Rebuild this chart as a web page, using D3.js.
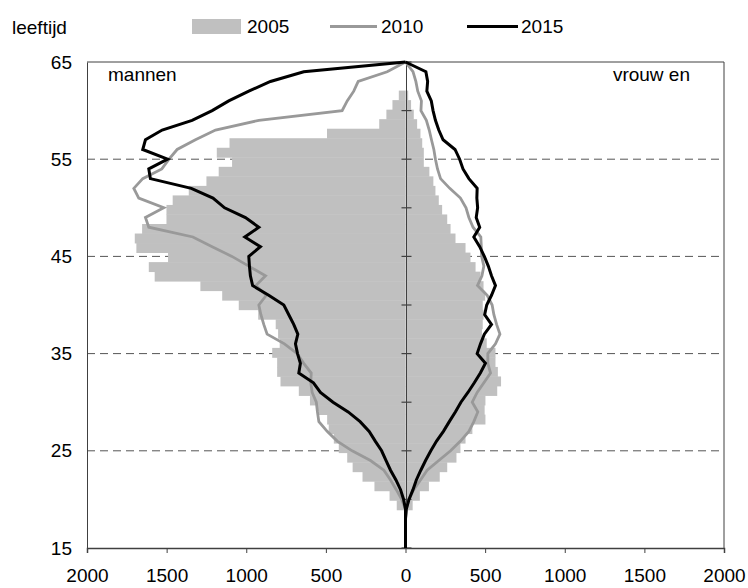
<!DOCTYPE html>
<html><head><meta charset="utf-8">
<script src="https://cdn.jsdelivr.net/npm/d3@7"></script>
<style>
body{margin:0;background:#fff}
text{font-family:"Liberation Sans",Arial,sans-serif;fill:#000}
</style>
</head><body>
<svg id="chart" width="748" height="588"></svg>
<script>
// ---- data ----
const ages = [15,16,17,18,19,20,21,22,23,24,25,26,27,28,29,30,31,32,33,34,35,36,37,38,39,40,
  41,42,43,44,45,46,47,48,49,50,51,52,53,54,55,56,57,58,59,60,61,62,63,64,65];
const men2005 = [0,0,0,0,55,100,195,270,332,366,419,450,482,492,555,600,670,785,806,806,837,790,800,815,925,1047,
  1151,1288,1575,1612,1491,1690,1700,1654,1501,1501,1462,1361,1250,1173,1089,1185,1105,493,165,120,82,42,0,0,0];
const women2005 = [0,0,0,0,45,90,147,215,262,320,345,377,420,502,497,502,576,600,580,565,565,510,480,485,490,485,
  500,490,471,440,408,377,314,283,262,230,209,188,175,150,115,115,105,94,73,52,35,17,0,0,0];
const men2010 = [0,0,0,0,0,24,58,94,136,220,335,429,492,544,553,560,586,595,592,639,680,760,869,890,908,921,
  874,940,879,984,1090,1214,1335,1612,1633,1518,1675,1706,1650,1530,1485,1434,1319,1193,921,398,366,325,297,115,0];
const women2010 = [0,0,0,0,5,21,52,94,136,209,283,345,398,429,454,419,450,492,534,517,517,565,593,572,555,544,
  513,452,480,492,478,476,473,424,398,380,345,278,220,201,188,178,163,149,131,97,100,77,65,47,0];
const men2015 = [0,0,0,0,0,12,31,60,94,122,150,190,228,285,360,455,534,578,670,660,678,691,676,702,733,764,
  859,960,974,980,984,911,1009,921,1005,1136,1209,1345,1602,1612,1494,1650,1633,1528,1340,1214,1110,984,848,639,0];
const women2015 = [0,0,0,0,5,22,47,68,96,126,159,195,238,275,313,348,392,432,470,502,450,471,495,540,497,510,
  540,565,540,520,495,466,429,466,444,453,448,450,398,361,340,311,236,209,188,173,162,134,139,128,0];

const xTicks = [-2000,-1500,-1000,-500,0,500,1000,1500,2000];
const yTicks = [15,25,35,45,55,65];
const yGrid = [25,35,45,55];
const yMinor = [20,30,40,50,60];
const seriesNames = ["2005","2010","2015"];
const sideLabels = ["mannen","vrouw en"];
const yTitle = "leeftijd";

// ---- layout ----
const L = 87, R = 724, T = 62, B = 548;
const svg = d3.select("#chart");
const x = d3.scaleLinear().domain([-2000, 2000]).range([L, R]);
const y = d3.scaleLinear().domain([15, 65]).range([B, T]);
const yb = d3.scaleBand().domain(ages).range([B, T]).padding(0);
const axisCol = "#404040";

// dashed gridlines
svg.append("g").selectAll("line").data(yGrid).join("line")
  .attr("x1", L).attr("x2", R).attr("y1", d => y(d)).attr("y2", d => y(d))
  .attr("stroke", "#555").attr("stroke-width", 1).attr("stroke-dasharray", "8,5");

// 2005 bars
const bars = svg.append("g").attr("fill", "#c0c0c0");
bars.selectAll("rect.m").data(ages.map((a, i) => ({a, v: men2005[i]})).filter(d => d.v > 0)).join("rect")
  .attr("class", "m")
  .attr("x", d => x(-d.v)).attr("width", d => x(0) - x(-d.v))
  .attr("y", d => yb(d.a)).attr("height", yb.bandwidth() + 0.4);
bars.selectAll("rect.w").data(ages.map((a, i) => ({a, v: women2005[i]})).filter(d => d.v > 0)).join("rect")
  .attr("class", "w")
  .attr("x", x(0)).attr("width", d => x(d.v) - x(0))
  .attr("y", d => yb(d.a)).attr("height", yb.bandwidth() + 0.4);

// center axis with ticks
const cx = Math.round(x(0)) + 0.5;
svg.append("line").attr("x1", cx).attr("x2", cx).attr("y1", T).attr("y2", B)
  .attr("stroke", axisCol).attr("stroke-width", 1);
svg.append("g").selectAll("line").data(yTicks.concat(yMinor)).join("line")
  .attr("x1", cx - 5).attr("x2", cx + 5).attr("y1", d => y(d)).attr("y2", d => y(d))
  .attr("stroke", axisCol).attr("stroke-width", 1.2);

// frame: top, right
svg.append("line").attr("x1", L).attr("x2", R).attr("y1", T).attr("y2", T).attr("stroke", axisCol);
svg.append("line").attr("x1", R).attr("x2", R).attr("y1", T).attr("y2", B).attr("stroke", axisCol);

// left axis
const gy = svg.append("g").attr("transform", `translate(${L},0)`)
  .call(d3.axisLeft(y).tickValues(yTicks).tickSize(0).tickPadding(15));
gy.select(".domain").attr("stroke", axisCol);
gy.selectAll("text").attr("font-size", 19).attr("font-family", '"Liberation Sans",Arial,sans-serif').attr("fill", "#000");

// bottom axis
const gx = svg.append("g").attr("transform", `translate(0,${B})`)
  .call(d3.axisBottom(x).tickValues(xTicks).tickSize(5).tickPadding(16).tickFormat(d => Math.abs(d)));
gx.select(".domain").attr("stroke", axisCol).attr("stroke-width", 1.5);
gx.selectAll(".tick line").attr("stroke", axisCol);
gx.selectAll("text").attr("font-size", 19).attr("font-family", '"Liberation Sans",Arial,sans-serif').attr("fill", "#000");

// lines
function side(vals, sign) {
  return d3.line().x((v) => x(sign * v)).y((v, i) => y(ages[i]))(vals);
}
const lines = [
  {vals: men2010, sign: -1, col: "#999999", w: 2.8},
  {vals: women2010, sign: 1, col: "#999999", w: 2.8},
  {vals: men2015, sign: -1, col: "#000", w: 3},
  {vals: women2015, sign: 1, col: "#000", w: 3}
];
svg.append("g").selectAll("path").data(lines).join("path")
  .attr("d", d => side(d.vals, d.sign))
  .attr("fill", "none").attr("stroke", d => d.col).attr("stroke-width", d => d.w)
  .attr("stroke-linejoin", "miter").attr("stroke-miterlimit", 3);

// texts
svg.append("text").attr("x", 12).attr("y", 34).attr("font-size", 19).text(yTitle);
svg.append("text").attr("x", 108).attr("y", 81).attr("font-size", 19).text(sideLabels[0]);
svg.append("text").attr("x", 690).attr("y", 81).attr("font-size", 19).attr("text-anchor", "end").text(sideLabels[1]);

// legend
const lg = svg.append("g");
lg.append("rect").attr("x", 192).attr("y", 19).attr("width", 49).attr("height", 15).attr("fill", "#c0c0c0");
lg.append("text").attr("x", 247).attr("y", 33).attr("font-size", 19).text(seriesNames[0]);
lg.append("line").attr("x1", 330).attr("x2", 377).attr("y1", 26.5).attr("y2", 26.5).attr("stroke", "#999999").attr("stroke-width", 3);
lg.append("text").attr("x", 381).attr("y", 33).attr("font-size", 19).text(seriesNames[1]);
lg.append("line").attr("x1", 467).attr("x2", 518).attr("y1", 26.5).attr("y2", 26.5).attr("stroke", "#000").attr("stroke-width", 3);
lg.append("text").attr("x", 521).attr("y", 33).attr("font-size", 19).text(seriesNames[2]);
</script>
</body></html>
